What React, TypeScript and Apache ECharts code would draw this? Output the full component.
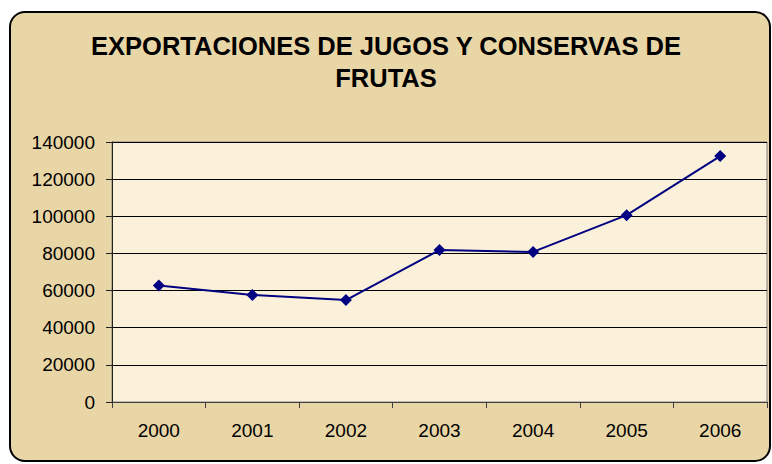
import React, { useEffect, useRef } from "react";
import * as echarts from "echarts";

const years = ["2000", "2001", "2002", "2003", "2004", "2005", "2006"];
const exportsValues = [62700, 57600, 54900, 81800, 80800, 100600, 132400];
const titleText = "EXPORTACIONES DE JUGOS Y CONSERVAS DE\nFRUTAS";

const FONT = "'Liberation Sans', Arial, sans-serif";

export default function App() {
  const ref = useRef<HTMLDivElement>(null);
  useEffect(() => {
    if (!ref.current) return;
    const chart = echarts.init(ref.current, undefined, { renderer: "svg" });
    chart.setOption({
      animation: false,
      backgroundColor: "#ffffff",
      graphic: [
        {
          type: "rect",
          z: -10,
          silent: true,
          shape: { x: 10, y: 12, width: 760, height: 449, r: 15 },
          style: { fill: "#E9D6A6", stroke: "#000000", lineWidth: 2 },
        },
      ],
      title: {
        text: titleText,
        left: "center",
        top: 25,
        textStyle: {
          fontFamily: FONT,
          fontSize: 25.5,
          fontWeight: "bold",
          color: "#000000",
          lineHeight: 32,
        },
      },
      grid: {
        left: 112,
        top: 142,
        right: 5,
        bottom: 62,
        show: true,
        backgroundColor: "#FBF1DB",
        borderColor: "#808080",
        borderWidth: 1,
        containLabel: false,
      },
      xAxis: {
        type: "category",
        data: years,
        boundaryGap: true,
        axisLine: { show: true, lineStyle: { color: "#404040", width: 1 } },
        axisTick: { show: true, length: 6, alignWithLabel: false, lineStyle: { color: "#404040" } },
        axisLabel: { margin: 19, fontFamily: FONT, fontSize: 19, color: "#000000" },
        splitLine: { show: false },
      },
      yAxis: {
        type: "value",
        min: 0,
        max: 140000,
        interval: 20000,
        axisLine: { show: true, lineStyle: { color: "#202020", width: 1 } },
        axisTick: { show: true, length: 6, lineStyle: { color: "#202020" } },
        axisLabel: {
          margin: 17,
          fontFamily: FONT,
          fontSize: 19,
          color: "#000000",
          formatter: (v: number) => String(v),
        },
        splitLine: { show: true, lineStyle: { color: "#000000", width: 1 } },
      },
      series: [
        {
          type: "line",
          data: exportsValues,
          symbol: "diamond",
          symbolSize: 12,
          lineStyle: { color: "#000080", width: 2 },
          itemStyle: { color: "#000080" },
        },
      ],
    });
    return () => chart.dispose();
  }, []);
  return (
    <div
      ref={ref}
      style={{ position: "fixed", left: 0, top: 0, width: 772, height: 464 }}
    />
  );
}
